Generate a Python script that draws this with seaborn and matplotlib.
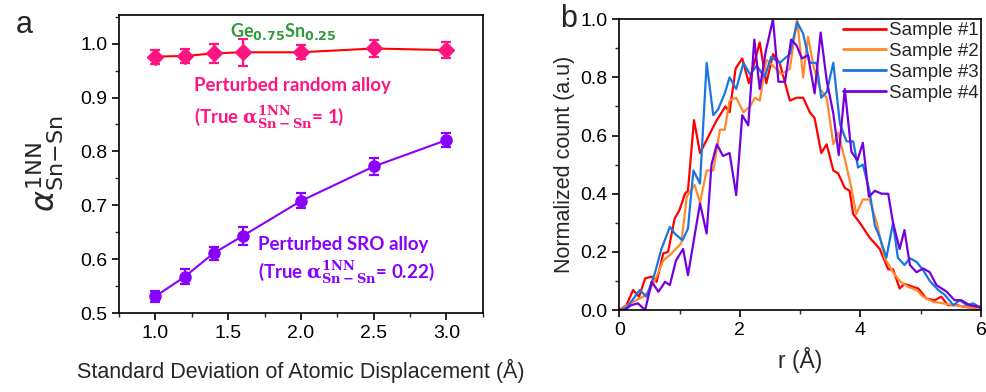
import numpy as np
import pandas as pd
import matplotlib
matplotlib.use('Agg')
import matplotlib.pyplot as plt
import seaborn as sns
from matplotlib.ticker import MultipleLocator

sns.set_theme(style='ticks')
plt.rcParams['font.family'] = ['Liberation Sans', 'DejaVu Sans']
plt.rcParams['axes.linewidth'] = 1.2

# ---------------- Panel a data ----------------
sigma = [1.0, 1.2, 1.4, 1.6, 2.0, 2.5, 3.0]
random_alpha = [0.976, 0.977, 0.982, 0.984, 0.984, 0.991, 0.988]
random_err = [0.013, 0.013, 0.017, 0.025, 0.013, 0.015, 0.015]
sro_alpha = [0.531, 0.567, 0.611, 0.643, 0.708, 0.772, 0.821]
sro_err = [0.010, 0.014, 0.012, 0.016, 0.014, 0.015, 0.013]

# ---------------- Panel b data ----------------
r1 = [0.0, 0.12, 0.23, 0.33, 0.43, 0.54, 0.62, 0.73, 0.81, 0.92, 1.0, 1.09, 1.14, 1.24, 1.34,
      1.61, 1.76, 1.83, 1.93, 2.04, 2.15, 2.24, 2.33, 2.44, 2.55, 2.66, 2.83, 2.94, 3.05, 3.16,
      3.24, 3.35, 3.44, 3.55, 3.63, 3.74, 3.82, 3.88, 3.99, 4.15, 4.32, 4.46, 4.54, 4.65, 4.73,
      4.87, 4.96, 5.09, 5.23, 5.34, 5.45, 5.59, 5.73, 5.98]
n1 = [0.0, 0.017, 0.069, 0.046, 0.109, 0.115, 0.097, 0.195, 0.20, 0.315, 0.344, 0.40, 0.41, 0.653, 0.54,
      0.65, 0.70, 0.68, 0.83, 0.865, 0.78, 0.85, 0.92, 0.78, 0.88, 0.85, 0.72, 0.73, 0.73, 0.68,
      0.66, 0.54, 0.57, 0.48, 0.47, 0.42, 0.41, 0.33, 0.30, 0.25, 0.21, 0.14, 0.14, 0.074, 0.09,
      0.08, 0.074, 0.04, 0.034, 0.046, 0.017, 0.017, 0.011, 0.006]

r2 = [0.0, 0.18, 0.40, 0.51, 0.62, 0.73, 0.87, 1.03, 1.12, 1.25, 1.34, 1.45, 1.56, 1.67, 1.75,
      1.83, 1.94, 2.06, 2.17, 2.25, 2.33, 2.44, 2.55, 2.69, 2.83, 2.95, 3.05, 3.13, 3.22, 3.33,
      3.44, 3.55, 3.63, 3.74, 3.85, 3.93, 4.04, 4.15, 4.27, 4.40, 4.54, 4.65, 4.79, 4.93, 5.04,
      5.20, 5.37, 5.54, 5.76, 5.98]
n2 = [0.0, 0.023, 0.046, 0.069, 0.115, 0.17, 0.195, 0.23, 0.39, 0.43, 0.37, 0.48, 0.48, 0.62, 0.62,
      0.72, 0.73, 0.68, 0.70, 0.73, 0.72, 0.86, 0.84, 0.81, 0.83, 1.0, 0.80, 0.94, 0.84, 0.76,
      0.73, 0.57, 0.61, 0.52, 0.42, 0.33, 0.38, 0.38, 0.30, 0.18, 0.13, 0.10, 0.08, 0.069, 0.046,
      0.029, 0.023, 0.017, 0.011, 0.002]

r3 = [0.0, 0.12, 0.26, 0.34, 0.45, 0.59, 0.70, 0.84, 0.92, 1.05, 1.14, 1.23, 1.34, 1.45, 1.56,
      1.64, 1.75, 1.83, 1.94, 2.06, 2.17, 2.28, 2.41, 2.52, 2.66, 2.83, 2.95, 3.05, 3.16, 3.27,
      3.35, 3.44, 3.55, 3.66, 3.77, 3.88, 3.96, 4.04, 4.15, 4.24, 4.32, 4.43, 4.54, 4.62, 4.73,
      4.82, 4.93, 5.04, 5.15, 5.29, 5.40, 5.54, 5.65, 5.76, 5.87, 5.98]
n3 = [0.0, 0.008, 0.046, 0.069, 0.046, 0.126, 0.21, 0.286, 0.263, 0.24, 0.28, 0.48, 0.435, 0.85, 0.67,
      0.69, 0.745, 0.80, 0.76, 0.85, 0.81, 0.84, 0.80, 0.87, 0.85, 0.88, 0.99, 0.95, 0.85, 0.85,
      0.73, 0.75, 0.85, 0.64, 0.58, 0.58, 0.49, 0.50, 0.41, 0.29, 0.25, 0.18, 0.30, 0.18, 0.155,
      0.178, 0.166, 0.137, 0.10, 0.069, 0.052, 0.017, 0.034, 0.017, 0.023, 0.009]

r4 = [0.0, 0.09, 0.20, 0.31, 0.43, 0.54, 0.65, 0.76, 0.84, 0.94, 1.06, 1.14, 1.34, 1.45, 1.53,
      1.62, 1.72, 1.83, 1.94, 2.04, 2.14, 2.24, 2.33, 2.43, 2.55, 2.64, 2.75, 2.85, 2.94, 3.03,
      3.13, 3.24, 3.34, 3.44, 3.55, 3.64, 3.74, 3.85, 3.95, 4.04, 4.14, 4.24, 4.35, 4.46, 4.54,
      4.65, 4.73, 4.82, 4.93, 5.04, 5.15, 5.26, 5.43, 5.56, 5.67, 5.81, 5.98]
n4 = [0.0, 0.0, 0.017, 0.023, 0.0, 0.097, 0.063, 0.097, 0.086, 0.17, 0.21, 0.12, 0.367, 0.263, 0.50,
      0.57, 0.53, 0.54, 0.395, 0.67, 0.635, 0.93, 0.76, 0.89, 1.0, 0.785, 0.785, 0.93, 0.91, 0.865,
      0.876, 0.745, 0.954, 0.79, 0.676, 0.533, 0.76, 0.544, 0.515, 0.575, 0.39, 0.41, 0.40, 0.40, 0.30,
      0.21, 0.275, 0.155, 0.13, 0.143, 0.13, 0.086, 0.063, 0.034, 0.034, 0.017, 0.011]

sample_names = ['Sample #1', 'Sample #2', 'Sample #3', 'Sample #4']
sample_colors = ['#ff0000', '#ff8a2e', '#1a75e0', '#7400e0']

dfb = pd.concat([
    pd.DataFrame({'r': r, 'count': n, 'sample': name})
    for r, n, name in zip([r1, r2, r3, r4], [n1, n2, n3, n4], sample_names)
], ignore_index=True)

# ---------------- Figure ----------------
fig = plt.figure(figsize=(9.86, 3.92), dpi=100)
axa = fig.add_axes([0.1207, 0.2015, 0.369, 0.760])
axb = fig.add_axes([0.628, 0.209, 0.367, 0.742])

pink = '#ff1480'
purple = '#8a00ff'

sns.lineplot(x=sigma, y=random_alpha, color='#ff0000', lw=1.5, ax=axa)
sns.lineplot(x=sigma, y=sro_alpha, color=purple, lw=1.5, ax=axa)
axa.errorbar(sigma, random_alpha, yerr=random_err, fmt='D', color=pink, ms=8,
             capsize=3.5, elinewidth=1.6, capthick=1.6, zorder=5)
axa.errorbar(sigma, sro_alpha, yerr=sro_err, fmt='o', color=purple, ms=8,
             capsize=3.5, elinewidth=1.6, capthick=1.6, zorder=5)

axa.set_xlim(0.75, 3.25)
axa.set_ylim(0.5, 1.053)
axa.xaxis.set_major_locator(MultipleLocator(0.5))
axa.xaxis.set_minor_locator(MultipleLocator(0.25))
axa.yaxis.set_major_locator(MultipleLocator(0.1))
axa.yaxis.set_minor_locator(MultipleLocator(0.05))
axa.set_xticks([1.0, 1.5, 2.0, 2.5, 3.0])
axa.set_xticklabels(['1.0', '1.5', '2.0', '2.5', '3.0'])
axa.set_yticks([0.5, 0.6, 0.7, 0.8, 0.9, 1.0])
axa.set_yticklabels(['0.5', '0.6', '0.7', '0.8', '0.9', '1.0'])
axa.set_xlabel('Standard Deviation of Atomic Displacement (Å)', fontsize=15.5, labelpad=12)
axa.set_ylabel(r'$\alpha^{\mathrm{1NN}}_{\mathrm{Sn{-}Sn}}$', fontsize=23, labelpad=10)

ann = dict(fontfamily='Lato', fontweight='bold', math_fontfamily='dejavuserif')
axa.text(0.45, 0.945, r'Ge$_{\mathbf{0.75}}$Sn$_{\mathbf{0.25}}$', transform=axa.transAxes,
         color='#2e9a3a', fontsize=13, ha='center', va='center', fontfamily='Lato', fontweight='bold')
axa.text(0.205, 0.765, 'Perturbed random alloy', transform=axa.transAxes, color=pink,
         fontsize=13.5, ha='left', va='center', **ann)
axa.text(0.205, 0.655, r'(True $\mathbf{\alpha}^{\mathbf{1NN}}_{\mathbf{Sn-Sn}}$= 1)', transform=axa.transAxes,
         color=pink, fontsize=13.5, ha='left', va='center', **ann)
axa.text(0.382, 0.23, 'Perturbed SRO alloy', transform=axa.transAxes, color=purple,
         fontsize=13.5, ha='left', va='center', **ann)
axa.text(0.382, 0.135, r'(True $\mathbf{\alpha}^{\mathbf{1NN}}_{\mathbf{Sn-Sn}}$= 0.22)', transform=axa.transAxes,
         color=purple, fontsize=13.5, ha='left', va='center', **ann)

sns.lineplot(data=dfb, x='r', y='count', hue='sample', palette=sample_colors,
             estimator=None, sort=False, lw=1.6, ax=axb)
axb.set_xlim(0, 6)
axb.set_ylim(0, 1.0)
axb.xaxis.set_major_locator(MultipleLocator(2))
axb.xaxis.set_minor_locator(MultipleLocator(1))
axb.yaxis.set_major_locator(MultipleLocator(0.2))
axb.yaxis.set_minor_locator(MultipleLocator(0.1))
axb.set_xticks([0, 2, 4, 6])
axb.set_xticklabels(['0', '2', '4', '6'])
axb.set_yticks([0.0, 0.2, 0.4, 0.6, 0.8, 1.0])
axb.set_yticklabels(['0.0', '0.2', '0.4', '0.6', '0.8', '1.0'])
axb.set_xlabel('r (Å)', fontsize=16.5, labelpad=6)
axb.set_ylabel('Normalized count (a.u)', fontsize=15.5, labelpad=4)
leg = axb.legend(loc='upper right', frameon=False, fontsize=13.5, handlelength=2.3,
                 handletextpad=0.15, labelspacing=0.2, borderaxespad=0.05, borderpad=0.1)
for h in leg.get_lines():
    h.set_linewidth(2.0)

for ax in (axa, axb):
    for s in ax.spines.values():
        s.set_visible(True)
        s.set_color('black')
        s.set_linewidth(1.2)
    ax.tick_params(which='major', direction='out', length=5, width=1.2, labelsize=14,
                   colors='black', top=False, right=False)
    ax.tick_params(which='minor', direction='out', length=3, width=1.0, top=False, right=False)
    ax.grid(False)

fig.text(0.016, 0.975, 'a', fontsize=22, va='top', ha='left')
fig.text(0.568, 0.99, 'b', fontsize=22, va='top', ha='left')

fig.savefig('out.png', dpi=100)
